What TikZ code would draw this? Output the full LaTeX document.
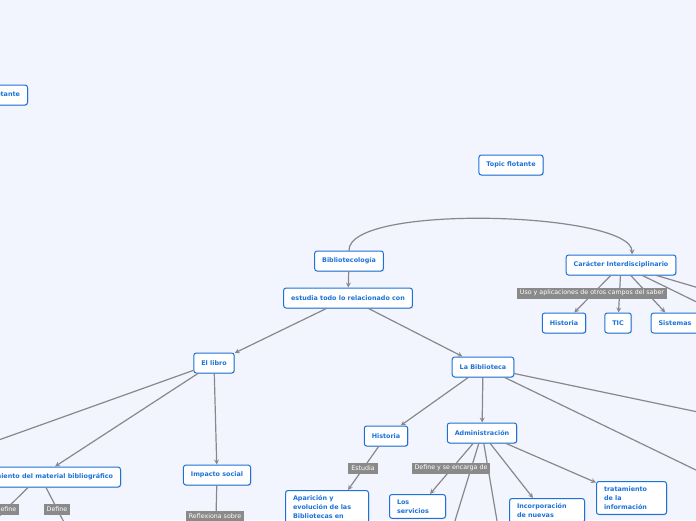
\documentclass[tikz,border=0pt]{standalone}
\usepackage{fontspec}
\newfontfamily\mapfont{DejaVu Sans}
\usetikzlibrary{shadows}
\definecolor{mapbg}{RGB}{242,245,254}
\definecolor{topicblue}{RGB}{28,114,218}
\definecolor{linegray}{RGB}{136,136,140}
\definecolor{labelgray}{RGB}{138,138,138}
\tikzset{
  topic/.style={draw=topicblue, line width=1pt, fill=white, rounded corners=2.5pt,
    text=topicblue, font=\mapfont\bfseries\fontsize{6.4}{9}\selectfont,
    minimum height=20pt, inner xsep=7.5pt,
    drop shadow={shadow xshift=0.8pt, shadow yshift=-0.8pt, opacity=0.25}},
  leaf/.style={topic, anchor=north west, align=left, inner ysep=5pt},
  rel/.style={fill=labelgray, text=white, font=\mapfont\fontsize{6.3}{7}\selectfont,
    inner xsep=3pt, inner ysep=1.5pt, minimum height=11pt},
  link/.style={draw=linegray, line width=1.2pt},
}
\begin{document}
\begin{tikzpicture}[x=1pt,y=-1pt,>=stealth,line join=round,line cap=round]
  \fill[mapbg] (0,0) rectangle (696,520);
  \useasboundingbox (0,0) rectangle (696,520);
  \clip (0,0) rectangle (696,520);
  % topics
  \node[topic,anchor=east] (flot1) at (28,95) {Topic flotante};
  \node[topic] (flot2) at (511,165) {Topic flotante};
  \node[topic] (biblio) at (349,261) {Bibliotecología};
  \node[topic] (estudia) at (348,298) {estudia todo lo relacionado con};
  \node[topic] (caracter) at (621,265) {Carácter Interdisciplinario};
  \node[topic] (histC) at (564,323) {Historia};
  \node[topic] (tic) at (618,323) {TIC};
  \node[topic] (sist) at (675,323) {Sistemas};
  \node[topic] (libro) at (214,363) {El libro};
  \node[topic] (bibliot) at (483,367) {La Biblioteca};
  \node[topic,anchor=east] (material) at (121,477) {Tratamiento del material bibliográfico};
  \node[topic] (impacto) at (217,475) {Impacto social};
  \node[topic] (histB) at (386,436) {Historia};
  \node[topic] (admin) at (482,433) {Administración};
  \node[leaf,text width=68pt] (aparicion) at (285,490) {Aparición y\\evolución de las\\Bibliotecas en};
  \node[leaf,text width=41pt] (servicios) at (389,494) {Los\\servicios};
  \node[leaf,text width=60pt] (incorp) at (509,498) {Incorporación\\de nuevas};
  \node[leaf,text width=55pt] (tratam) at (596,481) {tratamiento\\de la\\información};
  % free ends outside the frame
  \coordinate (carOut1) at (760,306);
  \coordinate (carOut2) at (760,333);
  \coordinate (libroOut) at (-60,461);
  \coordinate (bibOut1) at (760,425);
  \coordinate (bibOut2) at (760,501);
  \coordinate (def1Out) at (-15,530);
  \coordinate (def2Out) at (68,530);
  \coordinate (reflexOut) at (215,560);
  \coordinate (admOut1) at (446,550);
  \coordinate (admOut2) at (502,550);
  % connectors
  \draw[link,->] (biblio.north) .. controls (348,203) and (632,212) .. ([xshift=11pt]caracter.north);
  \draw[link,->] (biblio) -- (estudia);
  \draw[link,->] (estudia) -- (libro);
  \draw[link,->] (estudia) -- (bibliot);
  \draw[link,->] (caracter) -- (histC);
  \draw[link,->] (caracter) -- (tic);
  \draw[link,->] (caracter) -- (sist);
  \draw[link,->] (caracter) -- (carOut1);
  \draw[link,->] (caracter) -- (carOut2);
  \draw[link,->] (libro) -- (libroOut);
  \draw[link,->] (libro) -- ([xshift=-66pt]material.north east);
  \draw[link,->] (libro) -- (impacto);
  \draw[link,->] ([xshift=-93pt]material.south east) -- (def1Out);
  \draw[link,->] ([xshift=-75pt]material.south east) -- (def2Out);
  \draw[link,->] (impacto) -- (reflexOut);
  \draw[link,->] (bibliot) -- (histB);
  \draw[link,->] (bibliot) -- (admin);
  \draw[link,->] (bibliot) -- (bibOut1);
  \draw[link,->] (bibliot) -- (bibOut2);
  \draw[link,->] (histB) -- ([xshift=63pt]aparicion.north west);
  \draw[link,->] (admin) -- ([xshift=41pt]servicios.north west);
  \draw[link,->] (admin) -- (admOut1);
  \draw[link,->] (admin) -- (admOut2);
  \draw[link,->] (admin) -- ([xshift=24pt]incorp.north west);
  \draw[link,->] (admin) -- (tratam);
  % link labels
  \node[rel] (usoL) at (592,293) {Uso y aplicaciones de otros campos del saber};
  \node[rel] (estudiaL) at (363,468) {Estudia};
  \node[rel] (defineL) at (451,468) {Define y se encarga de};
  \node[rel] (def1L) at (6,509) {Define};
  \node[rel] (def2L) at (57,509) {Define};
  \node[rel] (reflexL) at (215,516) {Reflexiona sobre};
\end{tikzpicture}
\end{document}
